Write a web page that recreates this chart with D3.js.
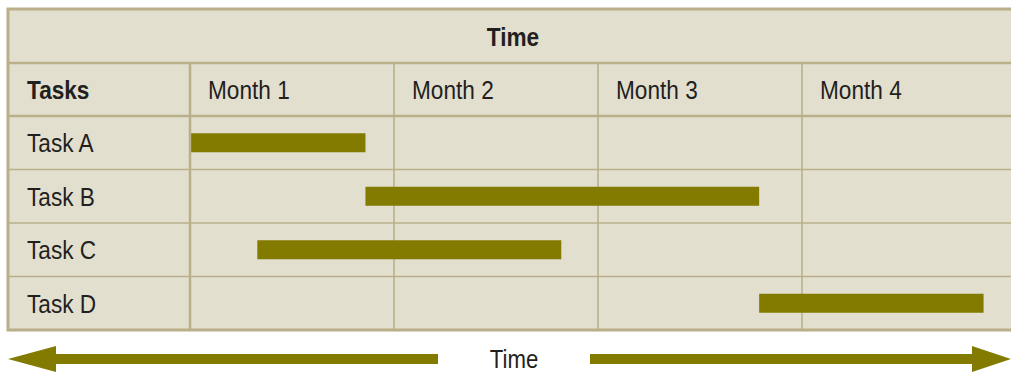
<!DOCTYPE html>
<html>
<head>
<meta charset="utf-8">
<script type="text/javascript" src="https://cdnjs.cloudflare.com/ajax/libs/d3/7.8.5/d3.min.js"></script>
<style>
	body { margin: 0; background: #fff; }
	text { font-family: "Liberation Sans Narrow", "Arial Narrow", "Liberation Sans", Arial, sans-serif; fill: #231f20; }
</style>
</head>
<body>
<div id="chart"></div>
<script type="text/javascript">
	// chart data
	var tasks = ["Task A", "Task B", "Task C", "Task D"];
	var months = ["Month 1", "Month 2", "Month 3", "Month 4"];
	var starts = [0, 0.86, 0.33, 2.79];   // in months
	var ends = [0.86, 2.79, 1.82, 3.89];

	var W = 1011, H = 372;
	var bg = "#e2dfcf", line = "#b9b08a", olive = "#827b00";
	var squeeze = 0.87; // narrow look, no condensed face installed

	var svg = d3.select("#chart").append("svg")
		.attr("width", W)
		.attr("height", H);

	var tLeft = 8, tTop = 9, tBottom = 330;
	var headH = 54, subH = 53;

	var x = d3.scaleLinear().domain([0, months.length]).range([190, 1006]);
	var y = d3.scaleBand().domain(tasks).range([tTop + headH + subH, tBottom]);

	function label(px, py, txt, size, anchor, bold) {
		svg.append("text")
			.attr("transform", "translate(" + px + "," + py + ") scale(" + squeeze + ",1)")
			.attr("text-anchor", anchor || "start")
			.attr("font-size", size)
			.attr("font-weight", bold ? "bold" : "normal")
			.text(txt);
	}

	// table background
	svg.append("rect")
		.attr("x", tLeft).attr("y", tTop)
		.attr("width", W - tLeft + 5).attr("height", tBottom - tTop)
		.attr("fill", bg);

	// row lines between tasks
	svg.selectAll("line.row")
		.data(tasks.slice(1))
		.enter().append("line")
		.attr("x1", tLeft).attr("x2", W)
		.attr("y1", function(d) { return y(d); })
		.attr("y2", function(d) { return y(d); })
		.attr("stroke", line).attr("stroke-width", 1.6);

	// month dividers
	svg.selectAll("line.month")
		.data(d3.range(1, months.length))
		.enter().append("line")
		.attr("x1", function(d) { return x(d); })
		.attr("x2", function(d) { return x(d); })
		.attr("y1", tTop + headH).attr("y2", tBottom)
		.attr("stroke", line).attr("stroke-width", 1.6);

	// bars
	svg.selectAll("rect.bar")
		.data(tasks)
		.enter().append("rect")
		.attr("x", function(d, i) { return x(starts[i]); })
		.attr("width", function(d, i) { return x(ends[i]) - x(starts[i]); })
		.attr("y", function(d) { return y(d) + y.bandwidth() / 2 - 9.5; })
		.attr("height", 19)
		.attr("fill", olive);

	// header lines
	svg.append("line")
		.attr("x1", tLeft).attr("x2", W)
		.attr("y1", tTop + headH).attr("y2", tTop + headH)
		.attr("stroke", line).attr("stroke-width", 2.5);
	svg.append("line")
		.attr("x1", tLeft).attr("x2", W)
		.attr("y1", tTop + headH + subH).attr("y2", tTop + headH + subH)
		.attr("stroke", line).attr("stroke-width", 2.5);
	svg.append("line")
		.attr("x1", x(0)).attr("x2", x(0))
		.attr("y1", tTop + headH).attr("y2", tBottom)
		.attr("stroke", line).attr("stroke-width", 2.5);

	// outer border (left, top, bottom)
	svg.append("path")
		.attr("d", "M" + W + "," + tTop + "H" + tLeft + "V" + tBottom + "H" + W)
		.attr("fill", "none")
		.attr("stroke", line).attr("stroke-width", 3);

	// header texts
	label(513, tTop + headH / 2 + 9.5, "Time", 26, "middle", true);
	label(27, tTop + headH + subH / 2 + 9.5, "Tasks", 26, "start", true);
	months.forEach(function(m, i) {
		label(x(i) + 18, tTop + headH + subH / 2 + 9.5, m, 26);
	});
	tasks.forEach(function(t) {
		label(27, y(t) + y.bandwidth() / 2 + 9.5, t, 26);
	});

	// time arrows
	var ay = 359, shaft = 5, head = 13, headL = 48;
	svg.append("path")
		.attr("d", "M" + tLeft + "," + ay + "L" + (tLeft + headL) + "," + (ay - head) +
			"V" + (ay - shaft) + "H438V" + (ay + shaft) + "H" + (tLeft + headL) +
			"V" + (ay + head) + "Z")
		.attr("fill", olive);
	svg.append("path")
		.attr("d", "M" + W + "," + ay + "L" + (W - 39) + "," + (ay - head) +
			"V" + (ay - shaft) + "H590V" + (ay + shaft) + "H" + (W - 39) +
			"V" + (ay + head) + "Z")
		.attr("fill", olive);
	label(514, 367.5, "Time", 25.5, "middle");
</script>
</body>
</html>
